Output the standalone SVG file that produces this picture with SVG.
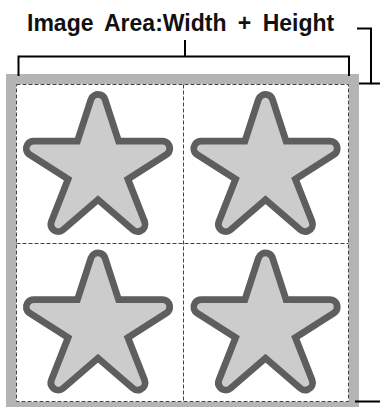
<svg xmlns="http://www.w3.org/2000/svg" xmlns:xlink="http://www.w3.org/1999/xlink" width="380" height="407" viewBox="0 0 380 407">
  <style>
    .title { font-family: "Liberation Sans", Arial, sans-serif; font-weight: bold; font-size: 23px; fill: #111; word-spacing: 5px; }
    .bracket { fill: none; stroke: #000; stroke-width: 2; }
    .dash { fill: none; stroke: #444; stroke-width: 1; stroke-dasharray: 4 2; }
    .star-out { fill: #5e5e5e; stroke: #5e5e5e; stroke-width: 21.6; stroke-linejoin: round; }
    .star-in { fill: #cccccc; stroke: #cccccc; stroke-width: 8; stroke-linejoin: round; }
  </style>
  <defs>
    <polygon id="starShape" points="0,-67.6 15.2,-20.9 64.3,-20.9 20.8,6.8 39.7,54.7 0,20.5 -39.7,54.7 -20.8,6.8 -64.3,-20.9 -15.2,-20.9"/>
    <g id="star">
      <use xlink:href="#starShape" class="star-out"/>
      <use xlink:href="#starShape" class="star-in"/>
    </g>
  </defs>

  <g id="frame">
    <rect x="6" y="74" width="353" height="333" fill="#b4b4b4"/>
    <rect x="16" y="84" width="333" height="318" fill="#ffffff"/>
    <rect x="16.5" y="84.5" width="332" height="317" class="dash"/>
    <line x1="183.5" y1="84.5" x2="183.5" y2="401.5" class="dash"/>
    <line x1="16.5" y1="243.5" x2="348.5" y2="243.5" class="dash"/>
  </g>

  <g id="title">
    <text x="27" y="31" class="title">Image Area:Width + Height</text>
  </g>

  <g id="star1"><use xlink:href="#star" transform="translate(98,169.4)"/></g>
  <g id="star2"><use xlink:href="#star" transform="translate(265.5,169.4)"/></g>
  <g id="star3"><use xlink:href="#star" transform="translate(98,327.9)"/></g>
  <g id="star4"><use xlink:href="#star" transform="translate(265.5,327.9)"/></g>

  <g id="connectors">
    <polyline class="bracket" points="18.5,76 18.5,56.5 349,56.5 349,76"/>
    <line class="bracket" x1="185" y1="40" x2="185" y2="56.5"/>
    <polyline class="bracket" points="357,28.5 371,28.5 371,83.5 359,83.5"/>
    <line class="bracket" x1="371" y1="83.5" x2="380" y2="83.5"/>
    <line class="bracket" x1="355" y1="401.5" x2="380" y2="401.5"/>
  </g>
</svg>
